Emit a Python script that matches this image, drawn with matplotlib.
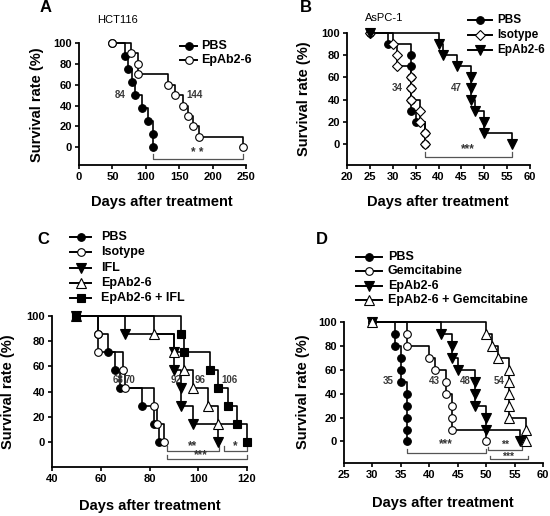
import matplotlib
matplotlib.use("Agg")
import matplotlib.pyplot as plt
from matplotlib.lines import Line2D

plt.rcParams['font.family'] = ['Liberation Sans', 'DejaVu Sans']

# ─── Données (jours, survie %) ───────────────────────────────────────────────
LEVELS_8 = [87.5, 75, 62.5, 50, 37.5, 25, 12.5, 0]
LEVELS_10 = [90, 80, 70, 60, 50, 40, 30, 20, 10, 0]
LEVELS_7 = [85.7, 71.4, 57.1, 42.9, 28.6, 14.3, 0]

# A : HCT116
A_start = 50
A_pbs_days = [69, 74, 80, 84, 94, 104, 111, 111]
A_ep_days = [78, 88, 88, 133, 144, 156, 163, 170, 179, 246]
A_medians = [(61, 50, "84"), (173, 50, "144")]

# B : AsPC-1
B_start = 25
B_pbs_days = [29, 34, 34, 34, 34, 34, 34, 35, 37, 37]
B_iso_days = [30, 31, 31, 34, 34, 34, 36, 36, 37, 37]
B_ep_days = [40, 41, 44, 47, 47, 47, 48, 50, 50, 56]
B_medians = [(31, 50, "34"), (44, 50, "47")]

# C
C_start = 50
C_pbs_days = [59, 63, 66, 68, 77, 82, 84]
C_iso_days = [59, 59, 69, 70, 82, 83, 86]
C_ifl_days = [70, 90, 90, 93, 93, 98, 108]
C_ep_days = [82, 90, 94, 98, 104, 108]
C_ep_end = 115
C_combo_days = [93, 94, 105, 108, 112, 116, 120]
C_medians = [(67, 49, "68"), (72, 49, "70"), (91, 49, "92"), (100.8, 49, "96"), (113, 49, "106")]

# D
D_start = 30
D_pbs_days = [34, 34, 35, 35, 35, 36, 36, 36, 36, 36]
D_gem_days = [36, 36, 40, 41, 43, 43, 44, 44, 44, 50]
D_ep_days = [42, 44, 44, 45, 48, 48, 48, 50, 50, 56]
D_combo_days = [50, 51, 52, 54, 54, 54, 54, 54, 57, 57]
D_medians = [(32.8, 51, "35"), (40.9, 51, "43"), (46.3, 51, "48"), (52.3, 51, "54")]

W, H = 550, 516
fig = plt.figure(figsize=(5.5, 5.16), dpi=100)


def axes_px(left, right, top, bottom):
    return fig.add_axes([left / W, 1 - bottom / H, (right - left) / W, (bottom - top) / H])


def fx(x):
    return x / W


def fy(y):
    return 1 - y / H


# ─── Courbe Kaplan-Meier ─────────────────────────────────────────────────────
def km(ax, t0, days, surv, marker, fc, ms=5.5, end=None, z=2):
    xs = [t0] + list(days)
    ys = [100] + list(surv)
    if end is not None:
        xs.append(end)
        ys.append(ys[-1])
    ax.step(xs, ys, where="post", color="black", lw=1.2, zorder=z, clip_on=False)
    ax.plot([t0] + list(days), [100] + list(surv), ls="none", marker=marker,
            mfc=fc, mec="black", ms=ms, mew=0.8, zorder=z + 0.5, clip_on=False)


def styler(ax, xlim, xticks, ybot):
    ax.set_xlim(*xlim)
    ax.set_ylim(ybot, 100)
    ax.set_xticks(xticks)
    ax.set_yticks(range(0, 101, 20))
    for s in ["top", "right"]:
        ax.spines[s].set_visible(False)
    for s in ["left", "bottom"]:
        ax.spines[s].set_linewidth(1.3)
    ax.tick_params(direction="out", length=3, width=1.2, labelsize=8, pad=2)
    for lab in ax.get_xticklabels() + ax.get_yticklabels():
        lab.set_fontweight("bold")


def bracket(ax, x0, x1, y, h=4.5):
    ax.plot([x0, x0, x1, x1], [y + h, y, y, y + h], color="#555555", lw=0.9, clip_on=False)


def legende(x0, x1, xt, ys, labels, styles, size=9):
    for y, lab, (m, fc, ms) in zip(ys, labels, styles):
        fig.add_artist(Line2D([fx(x0), fx((x0 + x1) / 2), fx(x1)], [fy(y)] * 3,
                              color="black", lw=1.4, marker=m, mfc=fc, mec="black",
                              ms=ms, mew=0.8, markevery=[1]))
        fig.text(fx(xt), fy(y), lab, fontsize=size, fontweight="bold", va="center", ha="left")


def labels_axes(xc, yx, xy, yc):
    fig.text(fx(xc), fy(yx), "Days after treatment", fontsize=10.5, fontweight="bold",
             ha="center", va="center")
    fig.text(fx(xy), fy(yc), "Survival rate (%)", fontsize=10.5, fontweight="bold",
             ha="center", va="center", rotation=90)


def mediane(ax, pts):
    for x, y, t in pts:
        ax.text(x, y, t, ha="center", va="center", fontsize=7, fontweight="bold",
                color="#3a3a3a")


def etoiles(ax, x, y, t, size=8.5):
    ax.text(x, y, t, ha="center", va="center", fontsize=size, fontweight="bold",
            color="#333333")


# ─── Panneau A ───────────────────────────────────────────────────────────────
axA = axes_px(79, 246, 43, 165)
km(axA, A_start, A_pbs_days, LEVELS_8, "o", "black")
km(axA, A_start, A_ep_days, LEVELS_10, "o", "white", z=3)
styler(axA, (0, 250), range(0, 251, 50), -17)
bracket(axA, A_pbs_days[-1], A_ep_days[-1], -11)
etoiles(axA, 177, -5.5, "* *")
mediane(axA, A_medians)
fig.text(fx(46), fy(7), "A", fontsize=12, fontweight="bold", ha="center", va="center")
fig.text(fx(118), fy(20), "HCT116", fontsize=8, ha="center", va="center")
legende(180, 197, 201, [46, 60], ["PBS", "EpAb2-6"], [("o", "black", 5.5), ("o", "white", 5.5)])
labels_axes(162, 202, 37, 105)

# ─── Panneau B ───────────────────────────────────────────────────────────────
axB = axes_px(347, 530, 33, 165)
km(axB, B_start, B_pbs_days, LEVELS_10, "o", "black")
km(axB, B_start, B_iso_days, LEVELS_10, "D", "white", ms=5.5, z=3)
km(axB, B_start, B_ep_days, LEVELS_10, "v", "black", ms=7, z=4)
styler(axB, (20, 60), range(20, 61, 5), -19)
bracket(axB, 37, 56, -11.5)
etoiles(axB, 46.5, -5, "***")
mediane(axB, B_medians)
fig.text(fx(306), fy(7), "B", fontsize=12, fontweight="bold", ha="center", va="center")
fig.text(fx(384), fy(18), "AsPC-1", fontsize=8, ha="center", va="center")
legende(468, 492, 497, [20, 35, 50], ["PBS", "Isotype", "EpAb2-6"],
        [("o", "black", 5.5), ("D", "white", 5.5), ("v", "black", 7)], size=8.5)
labels_axes(438, 202, 304, 99)

# ─── Panneau C ───────────────────────────────────────────────────────────────
axC = axes_px(52, 247, 316, 467)
km(axC, C_start, C_pbs_days, LEVELS_7, "o", "black")
km(axC, C_start, C_iso_days, LEVELS_7, "o", "white", z=3)
km(axC, C_start, C_ifl_days, LEVELS_7, "v", "black", ms=7, z=4)
km(axC, C_start, C_ep_days, LEVELS_7[:6], "^", "white", ms=7, end=C_ep_end, z=5)
km(axC, C_start, C_combo_days, LEVELS_7, "s", "black", ms=6, z=6)
styler(axC, (40, 120), range(40, 121, 20), -20)
bracket(axC, 87, 108.4, -7, h=3.5)
bracket(axC, 110.4, 120, -7, h=3.5)
bracket(axC, 87, 120, -13.5, h=3)
etoiles(axC, 97.5, -3.5, "**")
etoiles(axC, 115, -3.5, "*")
etoiles(axC, 101, -10.5, "***")
mediane(axC, C_medians)
fig.text(fx(43), fy(240), "C", fontsize=12, fontweight="bold", ha="center", va="center")
legende(70, 91, 101, [237, 252, 268, 283, 298],
        ["PBS", "Isotype", "IFL", "EpAb2-6", "EpAb2-6 + IFL"],
        [("o", "black", 5.5), ("o", "white", 5.5), ("v", "black", 7), ("^", "white", 7),
         ("s", "black", 6)])
labels_axes(150, 506, 8, 392)

# ─── Panneau D ───────────────────────────────────────────────────────────────
axD = axes_px(344, 543, 322, 463)
km(axD, D_start, D_pbs_days, LEVELS_10, "o", "black")
km(axD, D_start, D_gem_days, LEVELS_10, "o", "white", z=3)
km(axD, D_start, D_ep_days, LEVELS_10, "v", "black", ms=7, z=4)
km(axD, D_start, D_combo_days, LEVELS_10, "^", "white", ms=7, z=5)
styler(axD, (25, 60), range(25, 61, 5), -18)
bracket(axD, 36, 50, -9.5, h=3.5)
bracket(axD, 50.4, 56.3, -7.5, h=3)
bracket(axD, 50.7, 57.3, -15, h=3)
etoiles(axD, 43, -2.5, "***")
etoiles(axD, 53.3, -2.8, "**", size=7.5)
etoiles(axD, 53.8, -12.6, "***", size=7.5)
mediane(axD, D_medians)
fig.text(fx(322), fy(240), "D", fontsize=12, fontweight="bold", ha="center", va="center")
legende(356, 382, 388, [257, 271, 286, 300],
        ["PBS", "Gemcitabine", "EpAb2-6", "EpAb2-6 + Gemcitabine"],
        [("o", "black", 5.5), ("o", "white", 5.5), ("v", "black", 7), ("^", "white", 7)])
labels_axes(443, 503, 303, 392)

fig.savefig("out.png", dpi=100)
